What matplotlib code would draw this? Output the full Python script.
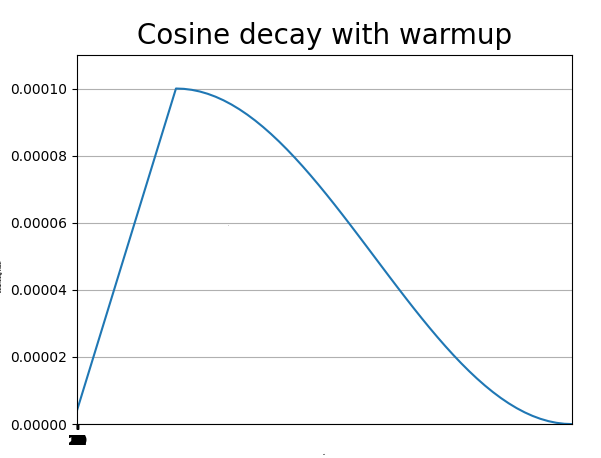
import numpy as np
import matplotlib
matplotlib.use("Agg")
import matplotlib.pyplot as plt

# schedule (lr in units of 1e-4), decay part every 200 steps
steps = [0] + list(range(2500, 12501, 200))
lr_e4 = [0.04,
         1.0, 0.99901, 0.99606, 0.99114, 0.98429, 0.97553, 0.96489, 0.95241,
         0.93815, 0.92216, 0.90451, 0.88526, 0.86448, 0.84227, 0.81871,
         0.79389, 0.76791, 0.74088, 0.71289, 0.68406, 0.65451, 0.62434,
         0.59369, 0.56267, 0.53140, 0.5, 0.46860, 0.43733, 0.40631, 0.37566,
         0.34549, 0.31594, 0.28711, 0.25912, 0.23209, 0.20611, 0.18129,
         0.15773, 0.13552, 0.11474, 0.09549, 0.07784, 0.06185, 0.04759,
         0.03511, 0.02447, 0.01571, 0.00886, 0.00394, 0.00099, 0.0]
xtick_pos = list(range(0, 25))
ytick_vals = [0.0, 0.00002, 0.00004, 0.00006, 0.00008, 0.00010]

lr = np.array(lr_e4) * 1e-4

fig, ax = plt.subplots(figsize=(6.01, 4.58), dpi=100)
fig.subplots_adjust(left=0.128, right=0.952, top=0.88, bottom=0.074)

ax.plot(steps, lr, color="#1f77b4", lw=1.5)
ax.set_xlim(0, steps[-1])
ax.set_ylim(0, 0.00011)
ax.set_yticks(ytick_vals)
ax.set_yticklabels([f"{v:.5f}" for v in ytick_vals])
ax.set_xticks(xtick_pos)
ax.set_xticklabels([str(v) for v in xtick_pos], fontweight="bold")
ax.grid(axis="y", color="#b0b0b0")

ax.set_title("Cosine decay with warmup", fontsize=20, pad=8)
ax.set_xlabel("Step", fontsize=1)
ax.set_ylabel("Learning rate", fontsize=3, fontweight="bold")
ax.yaxis.set_label_coords(-0.15, 0.4)
ax.text(0.305, 0.537, "lr", fontsize=1, transform=ax.transAxes)

plt.savefig("out.png", dpi=100)
plt.close(fig)
